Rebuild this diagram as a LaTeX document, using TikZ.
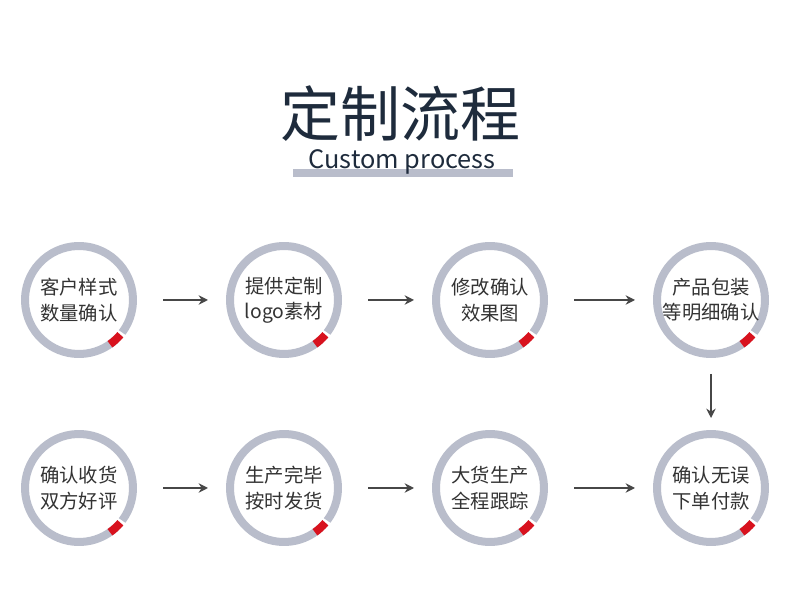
\documentclass[tikz,border=0pt]{standalone}
\usepackage{fontspec}
\setmainfont{Noto Sans CJK SC}
\usetikzlibrary{positioning, arrows.meta}
\definecolor{ringgray}{HTML}{B9BDCB}
\definecolor{ringred}{HTML}{D8121E}
\definecolor{navy}{HTML}{1E2B3C}
\definecolor{txtgray}{HTML}{333333}

\tikzset{
  step label/.style={align=center, text=txtgray, font=\fontsize{14.5}{19}\selectfont, inner sep=0pt},
  flow arrow/.style={-{Stealth[length=7pt,width=7pt]}, line width=1.3pt, draw=txtgray!90}
}

\newcommand{\stepring}[4]{%
  % ring with red mark
  \draw[ringgray, line width=6pt] (#1,#2) ++(37:54) arc[start angle=37, end angle=-313, radius=54];
  \draw[ringred, line width=6pt] (#1,#2) ++(40:54) arc[start angle=40, end angle=55, radius=54];
  \node[step label] (#3) at (#1,#2) {#4};
}

\begin{document}
\begin{tikzpicture}[x=0.75pt, y=-0.75pt]
\useasboundingbox[fill=white] (0,0) rectangle (800,605);

% title
\node[text=navy, font=\fontsize{45}{50}\selectfont] (title) at (400,114) {定制流程};
\fill[ringgray] (293,169) rectangle (513,177);
\node[text=navy, font=\fontsize{19}{22}\selectfont] (subtitle) at (402,162) {Custom process};

% steps
\stepring{79}{300}{s1}{客户样式\\数量确认}
\stepring{284}{300}{s2}{提供定制\\logo素材}
\stepring{490}{300}{s3}{修改确认\\效果图}
\stepring{711}{300}{s4}{产品包装\\等明细确认}
\stepring{711}{488}{s5}{确认无误\\下单付款}
\stepring{490}{488}{s6}{大货生产\\全程跟踪}
\stepring{284}{488}{s7}{生产完毕\\按时发货}
\stepring{79}{488}{s8}{确认收货\\双方好评}

% arrows
\foreach \a/\b in {s1/s2, s2/s3, s3/s4, s8/s7, s7/s6, s6/s5}
  \draw[flow arrow] ([xshift=63pt]\a.center) -- ([xshift=-57pt]\b.center);
\draw[flow arrow] ([yshift=-55.5pt]s4.center) -- ([yshift=52.5pt]s5.center);

\end{tikzpicture}
\end{document}
